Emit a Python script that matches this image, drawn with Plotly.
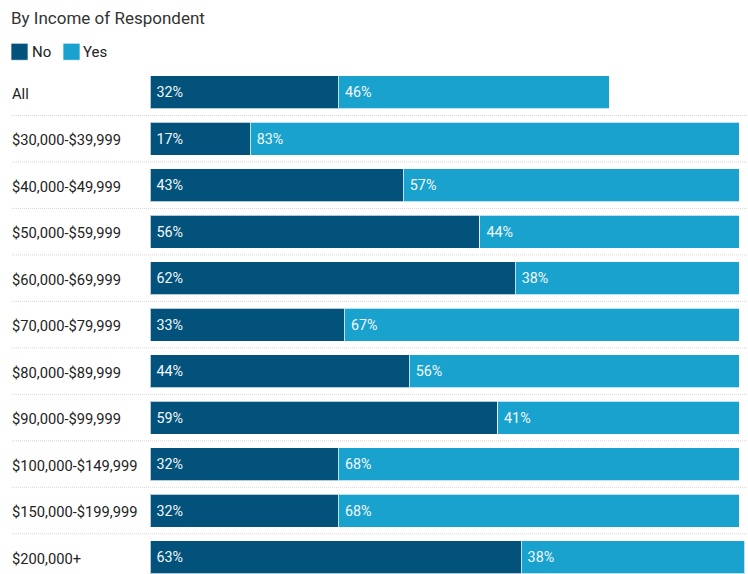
import plotly.graph_objects as go

categories = ["All", "$30,000-$39,999", "$40,000-$49,999", "$50,000-$59,999",
              "$60,000-$69,999", "$70,000-$79,999", "$80,000-$89,999",
              "$90,000-$99,999", "$100,000-$149,999", "$150,000-$199,999", "$200,000+"]
no_vals = [32, 17, 43, 56, 62, 33, 44, 59, 32, 32, 63]
yes_vals = [46, 83, 57, 44, 38, 67, 56, 41, 68, 68, 38]
series_names = ["No", "Yes"]

DARK = "#02527B"
LIGHT = "#1AA2CF"
FONT = "Roboto"

W, H = 748, 574
L = 150
PW = W - L
TOP = 68.75
PH = H - TOP


def px_x(p):
    return (p - L) / PW


def px_y(p):
    return (H - p) / PH


fig = go.Figure()
for name, vals, col in [(series_names[0], no_vals, DARK), (series_names[1], yes_vals, LIGHT)]:
    fig.add_trace(go.Bar(
        y=categories, x=vals, name=name, orientation="h",
        marker=dict(color=col, line=dict(color="rgba(255,255,255,0.7)", width=1)),
        width=0.71,
        text=[f"\u00a0{v}%" for v in vals], textposition="inside", insidetextanchor="start",
        textangle=0, constraintext="none",
        textfont=dict(color="#F2F8FB", size=14.3, family=FONT),
        hoverinfo="skip", showlegend=False,
    ))

# row separators
for i in range(len(categories) - 1):
    fig.add_shape(type="line", xref="paper", yref="y", x0=px_x(12), x1=1,
                  y0=i + 0.5, y1=i + 0.5,
                  line=dict(color="#D6D6D6", width=1, dash="1px,1px"))

# left-aligned category labels
for c in categories:
    fig.add_annotation(x=px_x(10), xref="paper", y=c, yref="y", text=c, showarrow=False,
                       xanchor="left", yanchor="middle", yshift=-1.5,
                       font=dict(family=FONT, size=14.7, color="#222"))

# legend (manual)
leg = [(series_names[0], DARK, 11, 32), (series_names[1], LIGHT, 63, 83)]
for name, col, sx, tx in leg:
    fig.add_shape(type="rect", xref="paper", yref="paper",
                  x0=px_x(sx), x1=px_x(sx + 17), y0=px_y(60), y1=px_y(43),
                  fillcolor=col, line=dict(color="rgba(255,255,255,0.7)", width=1))
    fig.add_annotation(x=px_x(tx - 2), xref="paper", y=px_y(52), yref="paper", text=name,
                       showarrow=False, xanchor="left", yanchor="middle",
                       font=dict(family=FONT, size=15, color="#222"))

pitch = 46.5
bottom_row = (H - 92) / pitch

fig.update_layout(
    width=W, height=H, barmode="stack",
    margin=dict(l=L, r=0, t=TOP, b=0),
    paper_bgcolor="white", plot_bgcolor="white",
    font=dict(family=FONT, size=14, color="#222"),
    title=dict(text="By Income of Respondent", xref="container", yref="container",
               x=11 / W, xanchor="left", y=1 - 18 / H, yanchor="middle",
               font=dict(family=FONT, size=17, color="#333")),
    showlegend=False,
    xaxis=dict(range=[0, PW / 5.89], visible=False, fixedrange=True),
    yaxis=dict(type="category", categoryorder="array", categoryarray=categories,
               range=[bottom_row, -0.5], showticklabels=False, showgrid=False,
               zeroline=False, ticks=""),
)
fig.write_html("out.html")
